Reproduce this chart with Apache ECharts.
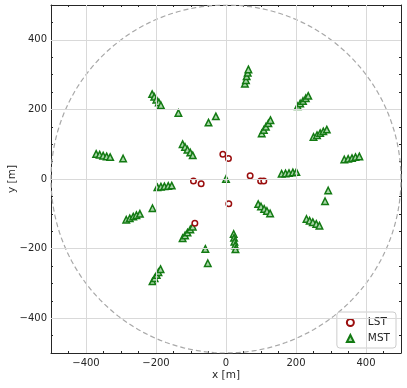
<!DOCTYPE html>
<html>
<head>
<meta charset="utf-8">
<script src="https://cdn.jsdelivr.net/npm/echarts@6/dist/echarts.min.js"></script>
<style>
  html, body { margin: 0; padding: 0; background: #fff; }
  #chart { width: 407px; height: 388px; }
</style>
</head>
<body>
<div id="chart"></div>
<script>
// telescope positions, in metres
const lstPoints = [
  [-9, 71], [7, 59], [-93, -6], [-71, -14], [69, 9],
  [99, -6], [108, -6], [8, -71], [-89, -127]
];

const mstPoints = [
  [-211, 244], [-205, 236], [-199, 228], [-192, 220], [-186, 212],
  [-124, 100], [-117, 92], [-110, 84], [-102, 76], [-95, 68],
  [-371, 72], [-361, 70], [-351, 67], [-341, 65], [-331, 63],
  [-196, -24], [-186, -22], [-176, -21], [-165, -20], [-155, -19],
  [54, 274], [57, 284], [59, 295], [62, 305], [64, 315],
  [205, 209], [212, 217], [220, 224], [228, 232], [235, 239],
  [102, 131], [108, 141], [114, 150], [121, 160], [127, 169],
  [250, 121], [260, 126], [269, 132], [278, 137], [288, 142],
  [338, 56], [349, 58], [360, 60], [370, 63], [381, 65],
  [159, 15], [170, 16], [180, 17], [191, 19], [201, 20],
  [92, -72], [100, -79], [109, -86], [117, -92], [126, -99],
  [230, -115], [239, -120], [248, -124], [258, -129], [267, -134],
  [22, -158], [23, -169], [24, -180], [26, -191], [27, -202],
  [-285, -117], [-275, -113], [-265, -108], [-256, -104], [-246, -100],
  [-124, -170], [-117, -162], [-110, -154], [-102, -145], [-95, -137],
  [-210, -294], [-204, -285], [-198, -276], [-193, -268], [-187, -259],
  [-136, 190], [-50, 162], [-29, 180], [-294, 59], [0, 0],
  [292, -33], [283, -64], [-210, -84], [-59, -201], [-52, -242]
];

const majorTicks = [-400, -200, 0, 200, 400];
const axisRange = [-500, 500];
const fieldRadius = 500;

// dashed reference circle
const circlePoints = [];
for (let a = 0; a <= 360; a += 2) {
  const r = a * Math.PI / 180;
  circlePoints.push([fieldRadius * Math.cos(r), fieldRadius * Math.sin(r)]);
}

const FONT = 'DejaVu Sans';
const INK = '#262626';
const fmt = (v) => (v < 0 ? '\u2212' + Math.abs(v) : String(v));

function makeAxis(dim, position, major, withLabel, name) {
  const ax = {
    type: 'value',
    position,
    min: axisRange[0],
    max: axisRange[1],
    interval: 50,
    axisLine: { show: !major, onZero: false, lineStyle: { color: INK, width: 1 } },
    axisTick: {
      show: true,
      inside: true,
      length: major ? 4 : 2,
      lineStyle: { color: INK, width: 1 },
    },
    axisLabel: { show: false },
    splitLine: { show: false },
  };
  if (major) {
    ax.axisTick.customValues = majorTicks;
  }
  if (withLabel) {
    ax.axisLabel = {
      show: true,
      customValues: majorTicks,
      formatter: fmt,
      color: INK,
      fontFamily: FONT,
      fontSize: 10,
      margin: dim === 'x' ? 5 : 4,
    };
  }
  if (name) {
    ax.name = name;
    ax.nameLocation = 'middle';
    ax.nameMoveOverlap = false;
    ax.nameGap = dim === 'x' ? 17 : 33;
    ax.nameTextStyle = { color: INK, fontFamily: FONT, fontSize: 10.5 };
  }
  return ax;
}

const chart = echarts.init(document.getElementById('chart'), null, { renderer: 'canvas' });

const option = {
  animation: false,
  backgroundColor: '#fff',
  grid: { left: 51, right: 6, top: 5, bottom: 35, containLabel: false, outerBoundsMode: 'none' },
  xAxis: [
    makeAxis('x', 'bottom', false, true, 'x [m]'),
    makeAxis('x', 'bottom', true, false),
    makeAxis('x', 'top', false, false),
    makeAxis('x', 'top', true, false),
  ],
  yAxis: [
    makeAxis('y', 'left', false, true, 'y [m]'),
    makeAxis('y', 'left', true, false),
    makeAxis('y', 'right', false, false),
    makeAxis('y', 'right', true, false),
  ],
  legend: {
    orient: 'vertical',
    right: 11,
    bottom: 40,
    backgroundColor: '#fff',
    borderColor: '#cccccc',
    borderWidth: 1,
    borderRadius: 3,
    padding: [5, 6, 4, 9],
    itemGap: 5,
    itemWidth: 7,
    itemHeight: 7,
    textStyle: { color: INK, fontFamily: FONT, fontSize: 10.5, padding: [0, 0, 0, 9] },
    data: [
      { name: 'LST', icon: 'circle' },
      { name: 'MST', icon: 'triangle' },
    ],
  },
  series: [
    {
      // major grid lines
      type: 'line',
      data: [],
      silent: true,
      z: 1,
      markLine: {
        silent: true,
        symbol: 'none',
        label: { show: false },
        lineStyle: { color: '#d9d9d9', width: 1, type: 'solid' },
        data: [
          ...majorTicks.map((v) => ({ xAxis: v })),
          ...majorTicks.map((v) => ({ yAxis: v })),
        ],
      },
    },
    {
      type: 'line',
      data: circlePoints,
      showSymbol: false,
      silent: true,
      z: 2,
      lineStyle: { color: '#a8a8a8', width: 1.2, type: [5, 3] },
    },
    {
      name: 'LST',
      type: 'scatter',
      data: lstPoints,
      symbol: 'circle',
      symbolSize: 5.5,
      z: 4,
      itemStyle: { color: '#ffffff', borderColor: '#9a0d0d', borderWidth: 1.5, opacity: 1 },
    },
    {
      name: 'MST',
      type: 'scatter',
      data: mstPoints,
      symbol: 'triangle',
      symbolSize: 6.5,
      z: 3,
      itemStyle: { color: '#a9d6a9', borderColor: '#137a13', borderWidth: 1.5, opacity: 1 },
    },
  ],
};

chart.setOption(option);
</script>
</body>
</html>
